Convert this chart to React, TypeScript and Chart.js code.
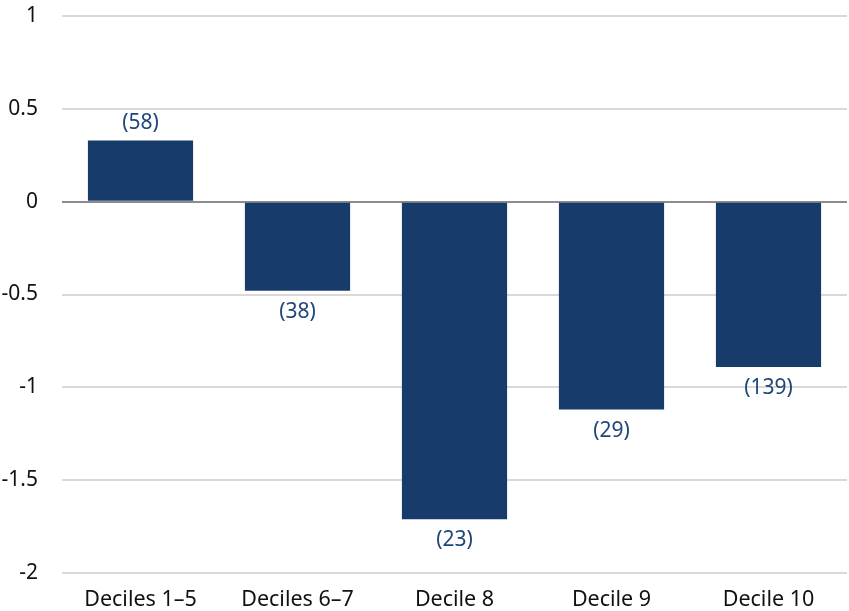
import React, { useEffect, useRef } from "react";
import { Chart, registerables } from "chart.js";

Chart.register(...registerables);

const categories = ["Deciles 1–5", "Deciles 6–7", "Decile 8", "Decile 9", "Decile 10"];
const values = [0.33, -0.48, -1.71, -1.12, -0.89];
const counts = ["(58)", "(38)", "(23)", "(29)", "(139)"];

const FONT = "'Source Sans Pro', 'Noto Sans', 'Open Sans', sans-serif";

const labelPlugin = {
  id: "barLabels",
  afterDatasetsDraw(chart: any) {
    const ctx = chart.ctx;
    const meta = chart.getDatasetMeta(0);
    ctx.save();
    ctx.font = `21px ${FONT}`;
    ctx.fillStyle = "#1F477A";
    ctx.textAlign = "center";
    ctx.textBaseline = "middle";
    meta.data.forEach((bar: any, i: number) => {
      const v = values[i];
      const y = v >= 0 ? bar.y - 17 : bar.y + 21;
      ctx.fillText(counts[i], bar.x, y);
    });
    ctx.restore();
  },
};

export default function App() {
  const ref = useRef<HTMLCanvasElement | null>(null);
  useEffect(() => {
    if (!ref.current) return;
    const chart = new Chart(ref.current, {
      type: "bar",
      data: {
        labels: categories,
        datasets: [
          {
            data: values,
            backgroundColor: "#173C6C",
            borderWidth: 0,
            barPercentage: 1,
            categoryPercentage: 0.67,
          },
        ],
      },
      options: {
        animation: false,
        responsive: false,
        maintainAspectRatio: false,
        layout: { padding: { top: 16, right: 2, left: 0, bottom: 0 } },
        plugins: { legend: { display: false }, tooltip: { enabled: false } },
        scales: {
          x: {
            grid: { display: false },
            border: { display: false },
            ticks: { color: "#111", font: { family: FONT, size: 21.5 }, padding: 6 },
            afterFit: (s: any) => {
              s.height = 38;
              s.paddingLeft = 0;
              s.paddingRight = 0;
            },
          },
          y: {
            min: -2,
            max: 1,
            ticks: {
              stepSize: 0.5,
              color: "#111",
              font: { family: FONT, size: 21 },
              padding: 24,
              callback: (v: any) => String(v),
            },
            grid: {
              color: (c: any) => (c.tick && c.tick.value === 0 ? "#8C8C8C" : "#D9D9D9"),
              lineWidth: 2,
              drawTicks: false,
            },
            border: { display: false },
            afterFit: (s: any) => {
              s.width = 62;
              s.paddingTop = 0;
              s.paddingBottom = 0;
            },
          },
        },
      },
      plugins: [labelPlugin],
    });
    return () => chart.destroy();
  }, []);
  return (
    <div style={{ position: "fixed", left: 0, top: 0, width: 849, height: 611, background: "#fff" }}>
      <canvas ref={ref} width={849} height={611} />
    </div>
  );
}
